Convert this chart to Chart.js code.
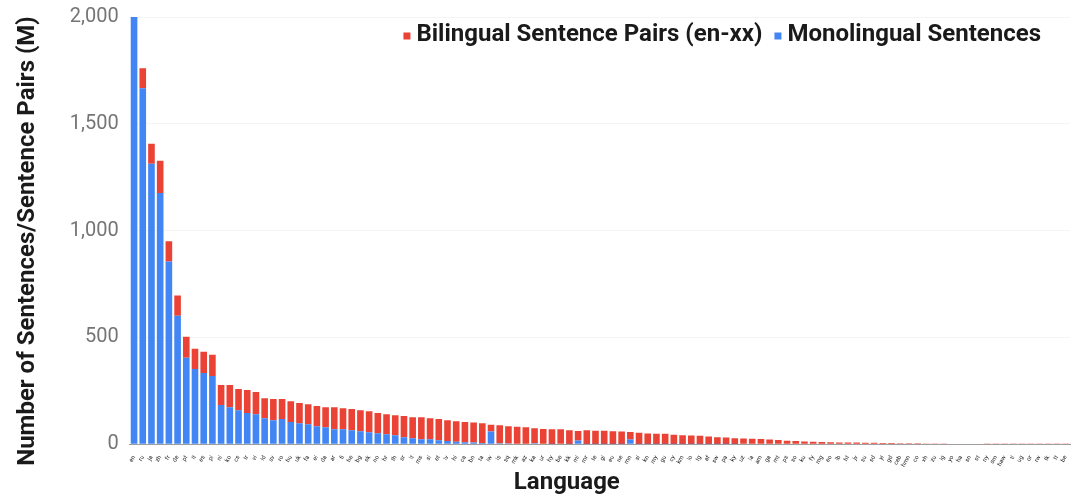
<!DOCTYPE html>
<html>
<head>
<meta charset="utf-8">
<script src="https://cdn.jsdelivr.net/npm/chart.js@4.4.1/dist/chart.umd.min.js"></script>
<style>
  html, body { margin: 0; padding: 0; background: #ffffff; }
  #wrap { width: 1080px; height: 504px; }
</style>
</head>
<body>
<div id="wrap"><canvas id="chart"></canvas></div>
<script>
// language codes along the x axis
const languages = [
  "en", "ru", "ja", "zh", "fr", "de", "pt", "it", "es", "pl",
  "nl", "ko", "cs", "tr", "vi", "id", "sv", "ro", "hu", "uk",
  "fa", "el", "da", "ar", "fi", "he", "bg", "sk", "no", "hr",
  "th", "sr", "lt", "ms", "sl", "et", "lv", "hi", "ca", "bn",
  "ta", "iw", "is", "sq", "mk", "az", "ka", "ur", "hy", "be",
  "kk", "ml", "mr", "te", "gl", "eu", "ne", "mn", "si", "kn",
  "my", "gu", "cy", "km", "lo", "tg", "af", "sw", "pa", "ky",
  "uz", "la", "am", "ga", "mt", "ps", "so", "ku", "fy", "mg",
  "eo", "lb", "ht", "jv", "su", "sd", "yi", "gd", "ceb", "hmn",
  "co", "xh", "zu", "ig", "yo", "ha", "sn", "st", "ny", "sm",
  "haw", "tl", "ug", "or", "rw", "tk", "tt", "be"
];

// totals (millions)
const totals = [
  2000, 1760, 1407, 1327, 950, 696, 503, 447, 433, 419,
  278, 278, 259, 254, 245, 216, 212, 212, 202, 193,
  188, 179, 174, 174, 169, 165, 160, 155, 146, 141,
  136, 132, 127, 127, 122, 118, 113, 108, 104, 102,
  99, 92, 89, 85, 82, 80, 75, 72, 71, 71,
  66, 62, 66, 64, 63, 61, 60, 58, 54, 51,
  50, 49, 45, 42, 41, 40, 36, 33, 32, 28,
  27, 26, 25, 22, 20, 17, 15, 13, 12, 11,
  10, 9, 9, 8, 7, 7, 6, 6, 5, 5,
  5, 4, 4, 4, 3, 3, 3, 3, 2, 2,
  2, 2, 2, 1, 1, 1, 1, 1
];

// monolingual part (blue, bottom of each stack)
const monolingual = [
  2000, 1666, 1313, 1176, 856, 602, 405, 353, 334, 320,
  184, 174, 160, 146, 141, 122, 113, 118, 104, 99,
  94, 85, 80, 71, 71, 66, 61, 56, 52, 47,
  42, 33, 28, 24, 24, 19, 15, 12, 10, 8,
  6, 60, 5, 4, 3, 3, 5, 3, 2, 3,
  2, 18, 2, 2, 1, 1, 1, 22, 1, 1,
  1, 1, 1, 1, 1, 1, 1, 1, 1, 1,
  0, 0, 0, 0, 0, 0, 0, 0, 0, 0,
  0, 0, 0, 0, 0, 0, 0, 0, 0, 0,
  0, 0, 0, 0, 0, 0, 0, 0, 0, 0,
  0, 0, 0, 0, 0, 0, 0, 0
];

const bilingual = totals.map((t, i) => t - monolingual[i]);

const yTicks = [0, 500, 1000, 1500, 2000];
const xTitle = "Language";
const yTitle = "Number of Sentences/Sentence Pairs (M)";

// legend inside the plot (top right) and both axis titles, placed like the original
const overlayText = {
  id: "overlayText",
  afterDraw(chart) {
    const ctx = chart.ctx;
    const area = chart.chartArea;
    const items = chart.data.datasets.map((ds) => ({ text: ds.label, color: ds.backgroundColor }));
    ctx.save();
    ctx.font = "bold 24px Roboto";
    ctx.textBaseline = "middle";
    const box = 7, gapBox = 6, gapItem = 12;
    let total = 0;
    items.forEach((it, i) => {
      total += box + gapBox + ctx.measureText(it.text).width + (i ? gapItem : 0);
    });
    let x = area.right - 29 - total;
    const y = 35;
    items.forEach((it) => {
      ctx.fillStyle = it.color;
      ctx.fillRect(x, y - box / 2 + 1, box, box);
      x += box + gapBox;
      ctx.fillStyle = "#1a1a1a";
      ctx.fillText(it.text, x, y);
      x += ctx.measureText(it.text).width + gapItem;
    });

    ctx.textAlign = "center";
    ctx.fillText(xTitle, (area.left + area.right) / 2 - 33, 483);

    ctx.translate(28, 241);
    ctx.rotate(-Math.PI / 2);
    ctx.fillText(yTitle, 0, 0);
    ctx.restore();
  },
};

new Chart(document.getElementById("chart"), {
  type: "bar",
  data: {
    labels: languages,
    datasets: [
      {
        label: "Bilingual Sentence Pairs (en-xx)",
        data: bilingual,
        backgroundColor: "#ea4335",
        borderWidth: 0,
        stack: "s",
        order: 2,
      },
      {
        label: "Monolingual Sentences",
        data: monolingual,
        backgroundColor: "#4285f4",
        borderWidth: 0,
        stack: "s",
        order: 1,
      },
    ],
  },
  options: {
    responsive: true,
    maintainAspectRatio: false,
    animation: false,
    layout: { padding: { left: 15, right: 10, top: 17, bottom: 2 } },
    datasets: {
      bar: { categoryPercentage: 0.8, barPercentage: 0.95 },
    },
    scales: {
      x: {
        stacked: true,
        grid: { display: false },
        border: { color: "#9e9e9e" },
        ticks: {
          autoSkip: false,
          minRotation: 60,
          maxRotation: 60,
          color: "#222222",
          padding: 2,
          font: { family: "Roboto", size: 6 },
        },
        title: {
          // space only, text drawn by overlayText
          display: true,
          text: xTitle,
          color: "rgba(0,0,0,0)",
          padding: { top: 3, bottom: 0 },
          font: { family: "Roboto", size: 24, weight: "bold" },
        },
      },
      y: {
        stacked: true,
        min: 0,
        max: 2000,
        afterBuildTicks: (axis) => {
          axis.ticks = yTicks.map((v) => ({ value: v }));
        },
        afterFit: (axis) => {
          axis.paddingTop = 0;
        },
        grid: { color: "#f4f4f4", drawTicks: false },
        border: { display: false },
        ticks: {
          color: "#757575",
          padding: 11,
          font: { family: "Roboto", size: 20 },
        },
        title: {
          // space only, text drawn by overlayText
          display: true,
          text: yTitle,
          color: "rgba(0,0,0,0)",
          padding: { top: 0, bottom: 15 },
          font: { family: "Roboto", size: 24, weight: "bold" },
        },
      },
    },
    plugins: {
      legend: { display: false },
      tooltip: { enabled: false },
    },
  },
  plugins: [overlayText],
});
</script>
</body>
</html>
